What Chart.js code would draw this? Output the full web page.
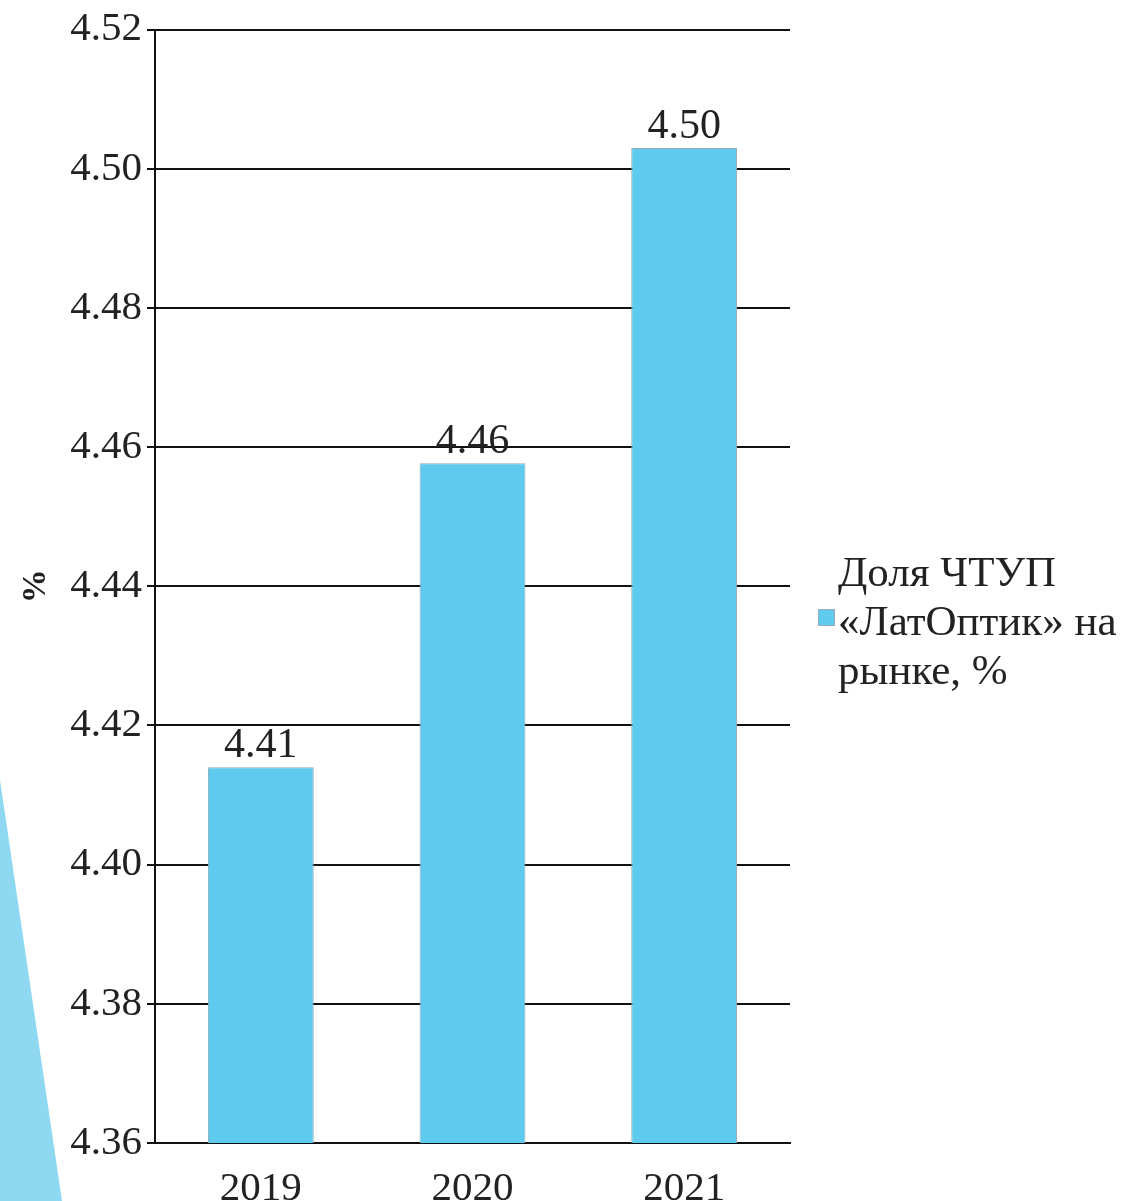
<!DOCTYPE html>
<html>
<head>
<meta charset="utf-8">
<script src="https://cdn.jsdelivr.net/npm/chart.js@4.4.0/dist/chart.umd.min.js"></script>
<style>
html, body { margin: 0; padding: 0; background: #fff; }
#wrap { position: relative; width: 1124px; height: 1201px; overflow: hidden; }
#deco { position: absolute; left: 0; top: 0; width: 1124px; height: 1201px; background: #8ed8f1;
        clip-path: polygon(0 780px, 62px 1201px, 0 1201px); }
canvas { position: absolute; left: 0; top: 0; }
</style>
</head>
<body>
<div id="wrap">
  <div id="deco"></div>
  <canvas id="shareChart" width="1124" height="1201"></canvas>
</div>
<script>
const years = ["2019", "2020", "2021"];
const shareValues = [4.414, 4.4577, 4.503];
const yTicks = [4.36, 4.38, 4.40, 4.42, 4.44, 4.46, 4.48, 4.50, 4.52];
const seriesLabel = "Доля ЧТУП «ЛатОптик» на рынке, %";
const legendLines = ["Доля ЧТУП", "«ЛатОптик» на", "рынке, %"];

const serif = "'Liberation Serif', 'Times New Roman', serif";
const barColor = "#5ecaee";
const ink = "#111";

// value labels above bars
const valueLabels = {
    id: "valueLabels",
    afterDatasetsDraw(chart) {
        const ctx = chart.ctx;
        const meta = chart.getDatasetMeta(0);
        ctx.save();
        ctx.font = "42px " + serif;
        ctx.fillStyle = "#222";
        ctx.textAlign = "center";
        ctx.textBaseline = "alphabetic";
        meta.data.forEach((bar, i) => {
            ctx.fillText(chart.data.datasets[0].data[i].toFixed(2), bar.x, bar.y - 10);
        });
        ctx.restore();
    }
};

// legend on the right, wrapped over three lines
const sideLegend = {
    id: "sideLegend",
    afterDraw(chart) {
        const ctx = chart.ctx;
        const ds = chart.data.datasets[0];
        ctx.save();
        ctx.fillStyle = ds.backgroundColor;
        ctx.fillRect(818, 609, 17, 17);
        ctx.strokeStyle = "#9ab";
        ctx.lineWidth = 1;
        ctx.strokeRect(818.5, 609.5, 16, 16);
        ctx.font = "43px " + serif;
        ctx.fillStyle = "#222";
        ctx.textAlign = "left";
        ctx.textBaseline = "alphabetic";
        legendLines.forEach((line, i) => {
            ctx.fillText(line, 838, 586 + i * 49);
        });
        ctx.restore();
    }
};

const ctx = document.getElementById("shareChart");

new Chart(ctx, {
    type: "bar",
    data: {
        labels: years,
        datasets: [{
            label: seriesLabel,
            data: shareValues,
            backgroundColor: barColor,
            borderColor: "#8fa9b3",
            borderWidth: 1,
            barPercentage: 0.5,
            categoryPercentage: 1.0
        }]
    },
    options: {
        responsive: false,
        animation: false,
        layout: {
            padding: { top: 29, right: 334, bottom: 0, left: 0 }
        },
        plugins: {
            legend: { display: false },
            tooltip: { enabled: false }
        },
        scales: {
            x: {
                grid: { display: false },
                border: { color: ink, width: 2 },
                ticks: {
                    font: { family: serif, size: 41 },
                    color: "#222",
                    padding: 14
                },
                afterFit(scale) { scale.height = 58; }
            },
            y: {
                min: 4.36,
                max: 4.52,
                afterBuildTicks(scale) {
                    scale.ticks = yTicks.map(v => ({ value: v }));
                },
                ticks: {
                    font: { family: serif, size: 41 },
                    color: "#222",
                    padding: 5,
                    callback: v => v.toFixed(2)
                },
                grid: { color: ink, lineWidth: 2, tickLength: 8 },
                border: { color: ink, width: 2 },
                title: {
                    display: true,
                    text: "%",
                    font: { family: serif, size: 34, weight: "bold" },
                    color: "#222",
                    padding: { top: 16, bottom: 0 }
                },
                afterFit(scale) { scale.width = 155; }
            }
        }
    },
    plugins: [valueLabels, sideLegend]
});
</script>
</body>
</html>
